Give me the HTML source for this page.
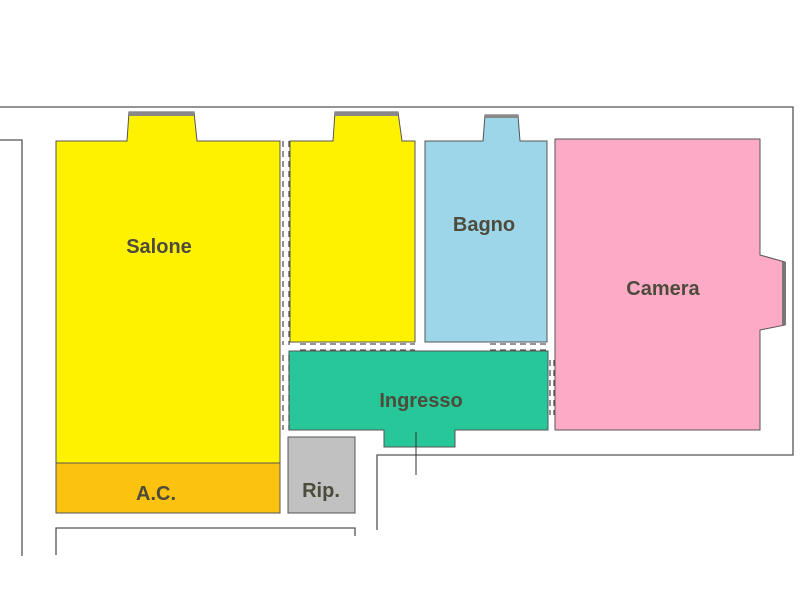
<!DOCTYPE html>
<html><head><style>body{margin:0;background:#fff}svg{display:block}text{font-family:"Liberation Sans",sans-serif;font-weight:bold;font-size:20px;text-anchor:middle}</style></head>
<body>
<svg width="800" height="600" viewBox="0 0 800 600" xmlns="http://www.w3.org/2000/svg">
<g fill="none" stroke="#555" stroke-width="1.3">
<polyline points="0,107 793,107 793,455 377,455 377,530"/>
<polyline points="0,140 22,140 22,556"/>
<polyline points="56,555 56,528 355,528 355,536"/>
</g>
<g stroke="#555" stroke-width="1">
<polygon points="56,141 127,141 129,112 194,112 197,141 280,141 280,463 56,463" fill="#fff200"/>
<rect x="56" y="463" width="224" height="50" fill="#fbc20f"/>
<polygon points="290,141 333,141 335,112 398,112 402,141 415,141 415,342 290,342" fill="#fff200"/>
<polygon points="425,141 483,141 485,115 518,115 520,141 547,141 547,342 425,342" fill="#9dd6e8"/>
<polygon points="555,139 760,139 760,255 785,262 785,325 760,330 760,430 555,430" fill="#fdaac7"/>
<polygon points="289,351 548,351 548,430 455,430 455,447 384,447 384,430 289,430" fill="#27c79a"/>
<rect x="288" y="437" width="67" height="76" fill="#c1c1c1"/>
</g>
<rect x="782" y="262" width="4" height="63" fill="#777"/>
<rect x="129" y="112" width="65" height="4" fill="#888"/>
<rect x="335" y="112" width="63" height="4" fill="#888"/>
<rect x="485" y="115" width="33" height="3" fill="#888"/>
<g stroke="#555" stroke-dasharray="6,4" stroke-width="1.3" fill="none">
<line x1="283" y1="141" x2="283" y2="345"/><line x1="289" y1="141" x2="289" y2="345"/>
<line x1="300" y1="344" x2="415" y2="344"/><line x1="300" y1="350" x2="415" y2="350"/>
<line x1="490" y1="344" x2="547" y2="344"/><line x1="490" y1="350" x2="547" y2="350"/>
<line x1="283" y1="355" x2="283" y2="430"/><line x1="289" y1="355" x2="289" y2="430"/>
<line x1="550" y1="360" x2="550" y2="415"/><line x1="554" y1="360" x2="554" y2="415"/>
</g>
<line x1="416" y1="432" x2="416" y2="475" stroke="#333"/>
<g fill="#4d4b3c">
<text x="159" y="253">Salone</text>
<text x="156" y="500">A.C.</text>
<text x="484" y="231">Bagno</text>
<text x="663" y="295">Camera</text>
<text x="421" y="407">Ingresso</text>
<text x="321" y="497">Rip.</text>
</g>
</svg>
</body></html>
